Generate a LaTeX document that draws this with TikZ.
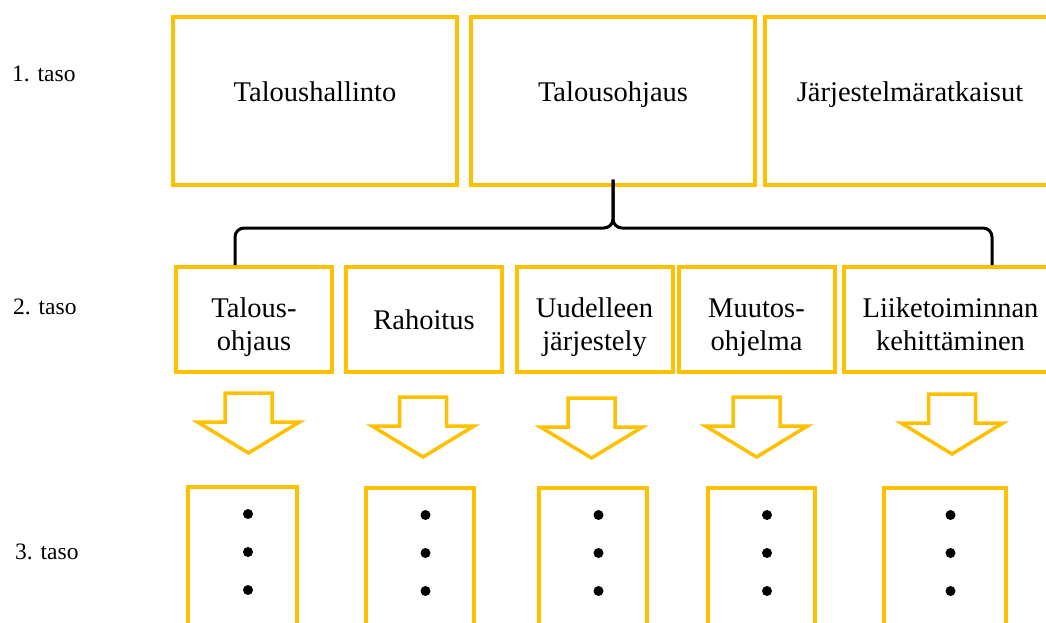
\documentclass[tikz,border=0pt]{standalone}
\usepackage{fontspec}
\setmainfont{Liberation Serif}
\usetikzlibrary{calc}
\definecolor{gold}{RGB}{255,192,0}

\tikzset{
  box/.style={draw=gold,line width=4pt,inner sep=0pt,font=\fontsize{28.5}{33}\selectfont},
  topbox/.style={box,minimum width=284pt,minimum height=168pt,text height=20pt,text depth=19pt},
  midbox/.style={box,minimum width=156pt,minimum height=105pt,align=center,text height=66pt,text depth=5pt},
  dotbox/.style={draw=gold,line width=4pt,minimum height=160pt,anchor=north},
  taso/.style={anchor=west,inner sep=0pt,font=\fontsize{23.5}{28}\selectfont},
  curly/.style={draw=black,line width=3pt,rounded corners=9pt},
  dnarrow/.pic={\draw[gold,line width=3.5pt,fill=white] (-23.5,0) -- (23.5,0) -- (23.5,29) -- (51,29) -- (0,60) -- (-51,29) -- (-23.5,29) -- cycle;}
}

\begin{document}
\begin{tikzpicture}[x=1pt,y=-1pt]
  \useasboundingbox (0,0) rectangle (1046,622);
  \clip (0,0) rectangle (1046,622);

  % tasot
  \node[taso] (taso1) at (12,74) {1. taso};
  \node[taso] (taso2) at (13,307) {2. taso};
  \node[taso] (taso3) at (15,552) {3. taso};

  % 1. taso
  \node[topbox] (talhal) at (315,100.5) {Taloushallinto};
  \node[topbox] (talohj) at (613,100.5) {Talousohjaus};
  \node[topbox,minimum width=290pt] (jarjrat) at (910,100.5) {Järjestelmäratkaisut};

  % 2. taso
  \node[midbox] (talous) at (254,319.5) {Talous-\\ohjaus};
  \node[midbox,text height=20pt,text depth=1pt] (rahoitus) at (424,319.5) {Rahoitus};
  \node[midbox] (uudell) at (594.5,319.5) {Uudelleen\\järjestely};
  \node[midbox] (muutos) at (756.5,319.5) {Muutos-\\ohjelma};
  \node[midbox,minimum width=214pt] (liiket) at (950.5,319.5) {Liiketoiminnan\\kehittäminen};

  % sulje
  \coordinate (bl) at ($(talous.north)+(-19,0)$);
  \coordinate (br) at ($(liiket.north)+(41.5,0)$);
  \coordinate (bt) at ($(talohj.south)+(0,-7)$);
  \coordinate (bm) at (613,228);
  \draw[curly] (bl) |- (bm) -- (bt);
  \draw[curly] (br) |- (bm) -- (bt);

  % nuolet
  \pic (a1) at (248.5,393) {dnarrow};
  \pic (a2) at (423,397) {dnarrow};
  \pic (a3) at (591.5,398) {dnarrow};
  \pic (a4) at (756.5,397) {dnarrow};
  \pic (a5) at (952,394) {dnarrow};

  % 3. taso
  \node[dotbox,minimum width=109pt] (d1) at (242.5,485) {};
  \node[dotbox,minimum width=108pt] (d2) at (420,486) {};
  \node[dotbox,minimum width=108pt] (d3) at (593,486) {};
  \node[dotbox,minimum width=107pt] (d4) at (761.5,486) {};
  \node[dotbox,minimum width=122pt] (d5) at (945,486) {};
  \foreach \b in {d1,d2,d3,d4,d5}
    \foreach \dy in {29,67,105}
      \fill ($(\b.north)+(5.5,\dy)$) circle (5pt);
\end{tikzpicture}
\end{document}
